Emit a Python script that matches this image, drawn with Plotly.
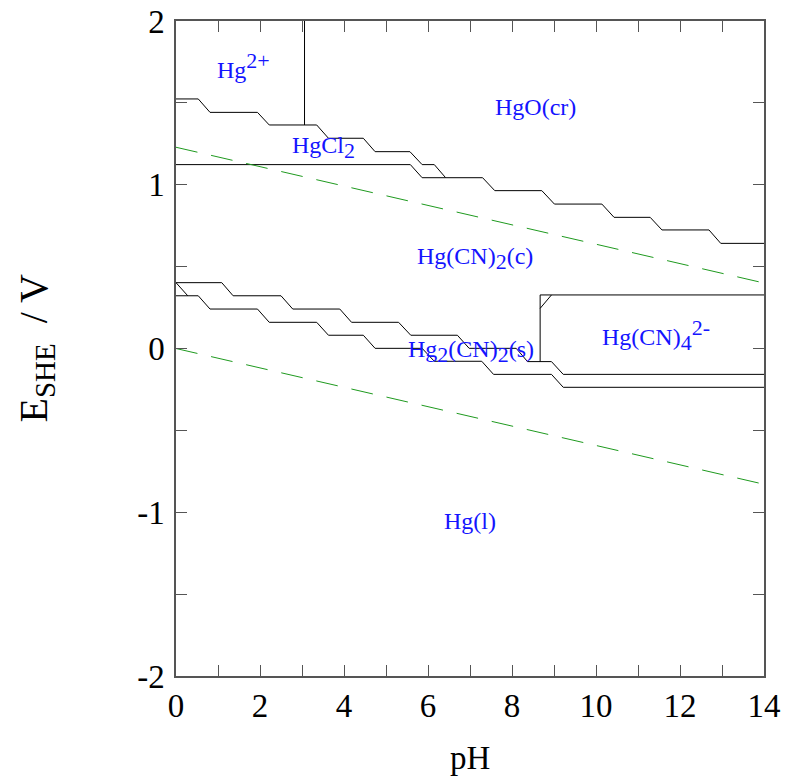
import plotly.graph_objects as go

# ---- data ----
# upper boundary: Hg2+/HgCl2 -> HgO(cr)/HgCl2 -> HgO(cr)/Hg(CN)2(c)
b1_ph = [0, 0.53, 0.81, 1.94, 2.22, 3.35, 3.63, 4.46, 4.74, 5.57, 5.86, 6.15, 6.42, 7.30, 7.59,
         8.71, 9.01, 10.14, 10.43, 11.29, 11.57, 12.69, 12.97, 14]
b1_e = [1.524, 1.524, 1.442, 1.442, 1.365, 1.365, 1.284, 1.284, 1.202, 1.202, 1.123, 1.123, 1.043,
        1.043, 0.964, 0.964, 0.882, 0.882, 0.801, 0.801, 0.724, 0.724, 0.642, 0.642]
# HgCl2 / Hg(CN)2(c)
b2_ph = [0, 5.58, 5.86, 6.42]
b2_e = [1.123, 1.123, 1.043, 1.043]
# Hg2+ / HgO(cr) vertical
b3_ph = [3.06, 3.06]
b3_e = [2.0, 1.365]
# Hg(CN)2(c) / Hg2(CN)2(s)
b4_ph = [0, 1.09, 1.36, 2.50, 2.78, 3.90, 4.18, 5.30, 5.59, 6.70, 6.98, 8.10, 8.37, 8.94, 9.22, 14]
b4_e = [0.402, 0.402, 0.322, 0.322, 0.241, 0.241, 0.160, 0.160, 0.081, 0.081, 0.001, 0.001,
        -0.080, -0.080, -0.158, -0.158]
# Hg2(CN)2(s) / Hg(l)
b5_ph = [0, 0.53, 0.81, 1.94, 2.22, 3.35, 3.63, 4.46, 4.74, 5.86, 6.15, 7.28, 7.56, 8.94, 9.22, 14]
b5_e = [0.322, 0.322, 0.241, 0.241, 0.160, 0.160, 0.081, 0.081, 0.001, 0.001, -0.078, -0.078,
        -0.158, -0.158, -0.237, -0.237]
b6_ph = [0, 0.28]
b6_e = [0.402, 0.322]
# Hg(CN)4 2- field border
b7_ph = [8.67, 8.67, 14]
b7_e = [-0.080, 0.327, 0.327]
b8_ph = [8.67, 8.94]
b8_e = [0.245, 0.327]

# water stability lines
w_ph = [0, 14]
w_upper = [1.229, 0.400]
w_lower = [0.0, -0.829]

SS = "<span style='font-size:22px'>{}</span>"
labels = ["Hg<sup>" + SS.format("2+") + "</sup>",
          "HgO(cr)",
          "HgCl<sub>" + SS.format("2") + "</sub>",
          "Hg(CN)<sub>" + SS.format("2") + "</sub>(c)",
          "Hg(CN)<sub>" + SS.format("4") + "</sub><sup>" + SS.format("2-") + "</sup>",
          "Hg<sub>" + SS.format("2") + "</sub>(CN)<sub>" + SS.format("2") + "</sub>(s)",
          "Hg(l)"]
label_ph = [1.60, 8.55, 3.50, 7.12, 11.43, 7.02, 7.0]
label_e = [1.73, 1.475, 1.23, 0.55, 0.08, -0.02, -1.053]

x_ticks = list(range(0, 15))
x_ticktext = [str(v) if v % 2 == 0 else "" for v in x_ticks]
y_ticks = [-2, -1.5, -1, -0.5, 0, 0.5, 1, 1.5, 2]
y_ticktext = ["-2", "", "-1", "", "0", "", "1", "", "2"]

fig = go.Figure()
for xs, ys in [(b1_ph, b1_e), (b2_ph, b2_e), (b3_ph, b3_e), (b4_ph, b4_e), (b5_ph, b5_e),
               (b6_ph, b6_e), (b7_ph, b7_e), (b8_ph, b8_e)]:
    fig.add_trace(go.Scatter(x=xs, y=ys, mode="lines", line=dict(color="black", width=1),
                             showlegend=False, hoverinfo="skip"))
for ys in (w_upper, w_lower):
    fig.add_trace(go.Scatter(x=w_ph, y=ys, mode="lines",
                             line=dict(color="#1f9a1f", width=1, dash="22px,14px"),
                             showlegend=False, hoverinfo="skip"))

for t, x, y in zip(labels, label_ph, label_e):
    fig.add_annotation(x=x, y=y, text=t, showarrow=False, xanchor="center", yanchor="middle",
                       font=dict(family="Liberation Serif", size=24, color="#1414ff"))

# axis titles
fig.add_annotation(xref="paper", yref="paper", x=0.5, y=0, yshift=-82, text="pH",
                   xanchor="center", yanchor="middle",
                   showarrow=False, font=dict(family="Liberation Serif", size=33, color="black"))
fig.add_annotation(xref="paper", yref="paper", x=0, y=0.5, xshift=-141, textangle=-90,
                   xanchor="center", yanchor="middle",
                   text="E<sub><span style='font-size:29px'>SHE</span></sub>  / V",
                   showarrow=False, font=dict(family="Liberation Serif", size=40, color="black"))

axis_common = dict(showline=True, linecolor="#555555", linewidth=1.5, mirror="ticks",
                   ticks="inside", ticklen=11, tickcolor="#555555", tickwidth=1.2,
                   showgrid=False, zeroline=False, automargin=False,
                   tickfont=dict(family="Liberation Serif", size=33, color="black"))
fig.update_xaxes(range=[0, 14], tickvals=x_ticks, ticktext=x_ticktext,
                 ticklabelstandoff=0, **axis_common)
fig.update_yaxes(range=[-2, 2], tickvals=y_ticks, ticktext=y_ticktext,
                 ticklabelstandoff=3, **axis_common)
fig.update_layout(width=795, height=776, margin=dict(l=176, r=31, t=21, b=100),
                  plot_bgcolor="white", paper_bgcolor="white")
fig.write_html("out.html")
